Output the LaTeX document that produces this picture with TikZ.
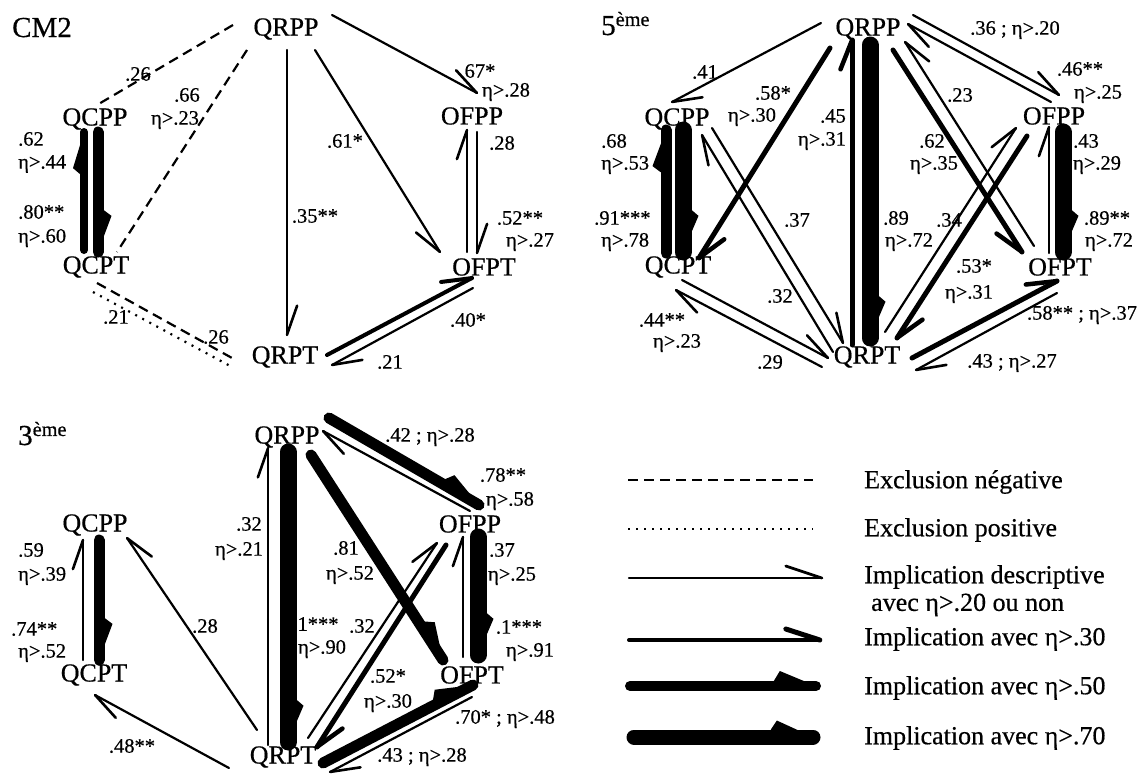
\documentclass[tikz,border=0pt]{standalone}
\usepackage{fontspec}
\setmainfont{Liberation Serif}[FakeBold=0.5]
\usetikzlibrary{decorations.markings}
\tikzset{
  barbA/.style n args={3}{line width=#1, line cap=round,
    postaction={decoration={markings, mark=at position 0.999 with {\draw[line width=#2, line cap=round] (0pt,0pt) -- (-29pt,{#3*(0.5*#1+9pt)});}}, decorate}},
  wedgeA/.style n args={3}{line width=#1, line cap=round,
    postaction={decoration={markings, mark=at position 0.999 with {\fill[line join=round] (0pt,0pt) -- (-36pt,{#3*(0.5*#1+#2)}) -- (-42pt,{#3*0.5*#1}) -- (-42pt,0pt) -- cycle;}}, decorate}},
  a1/.style={barbA={2.2pt}{2.6pt}{1}},
  a1r/.style={barbA={2.2pt}{2.6pt}{-1}},
  a2/.style={barbA={4pt}{4pt}{1}},
  a3/.style={barbA={5pt}{4.5pt}{1}},
  a3r/.style={barbA={5pt}{4.5pt}{-1}},
  b1/.style={wedgeA={8pt}{7pt}{1}},
  b2/.style={wedgeA={11pt}{8pt}{1}},
  b3/.style={wedgeA={17pt}{7pt}{1}},
  nd/.style={font=\fontsize{26}{28}\selectfont, inner sep=0pt},
  lb/.style={font=\fontsize{20.5}{22}\selectfont, inner sep=0pt},
  lg/.style={font=\fontsize{26}{28}\selectfont, inner sep=0pt, anchor=west},
  ttl/.style={font=\fontsize{29}{31}\selectfont, inner sep=0pt, anchor=base west},
  exneg/.style={line width=2.2pt, dash pattern=on 10pt off 6pt},
  expos/.style={line width=2.2pt, dash pattern=on 2pt off 6pt},
}
\begin{document}
\begin{tikzpicture}[x=1pt,y=-1pt]
\useasboundingbox[fill=white] (0,0) rectangle (1148,779);

% ================= CM2 =================
\node[ttl] (tA) at (12,37) {CM2};
\node[nd] (A1) at (286,29) {QRPP};
\node[nd] (A2) at (95,119) {QCPP};
\node[nd] (A3) at (96,267) {QCPT};
\node[nd] (A4) at (472,116) {OFPP};
\node[nd] (A5) at (484,267) {OFPT};
\node[nd] (A6) at (285,357) {QRPT};

\node[lb] (al1) at (138,74) {.26};
\node[lb] (al2) at (187,95) {.66};
\node[lb] (al3) at (175,120) {η>.23};
\node[lb] (al4) at (480,71) {67*};
\node[lb] (al5) at (506,92) {η>.28};
\node[lb] (al6) at (345,141) {.61*};
\node[lb] (al7) at (315,216) {.35**};
\node[lb] (al8) at (502,143) {.28};
\node[lb] (al9) at (520,218) {.52**};
\node[lb] (al10) at (530,242) {η>.27};
\node[lb,anchor=west] (al11) at (18,139) {.62};
\node[lb,anchor=west] (al12) at (18,164) {η>.44};
\node[lb,anchor=west] (al13) at (18,212) {.80**};
\node[lb,anchor=west] (al14) at (18,238) {η>.60};
\node[lb] (al15) at (116,317) {.21};
\node[lb] (al16) at (216,337) {.26};
\node[lb] (al17) at (468,320) {.40*};
\node[lb] (al18) at (390,362) {.21};

\draw[exneg] ([shift={(-53,-4)}]A1.center) -- ([shift={(2,-14)}]A2.center);
\draw[exneg] ([shift={(-39,21)}]A1.center) -- ([shift={(21,-15)}]A3.center);
\draw[a1] ([shift={(46,-14)}]A1.center) -- ([shift={(5,-23)}]A4.center);
\draw[a1r] ([shift={(29,21)}]A1.center) -- ([shift={(-44,-15)}]A5.center);
\draw[a1] ([shift={(1,21)}]A1.center) -- ([shift={(2,-22)}]A6.center);
\draw[a1] ([shift={(-17,-15)}]A5.center) -- ([shift={(-5,14)}]A4.center);
\draw[a1] ([shift={(5,16)}]A4.center) -- ([shift={(-7,-14)}]A5.center);
\draw[b1] ([shift={(-12,-17)}]A3.center) -- ([shift={(-11,13)}]A2.center);
\draw[b2] ([shift={(3,13)}]A2.center) -- ([shift={(2,-15)}]A3.center);
\draw[exneg] ([shift={(1,16)}]A3.center) -- ([shift={(-53,1)}]A6.center);
\draw[expos] ([shift={(-3,25)}]A3.center) -- ([shift={(-53,10)}]A6.center);
\draw[a2] ([shift={(42,-2)}]A6.center) -- ([shift={(-12,11)}]A5.center);
\draw[a1] ([shift={(-11,21)}]A5.center) -- ([shift={(47,8)}]A6.center);

% ================= 5eme =================
\node[ttl] (tB) at (601,35) {5\textsuperscript{ème}};
\node[nd] (B1) at (868,29) {QRPP};
\node[nd] (B2) at (677,119) {QCPP};
\node[nd] (B3) at (678,267) {QCPT};
\node[nd] (B4) at (1054,116) {OFPP};
\node[nd] (B5) at (1060,267) {OFPT};
\node[nd] (B6) at (867,357) {QRPT};

\node[lb] (bl1) at (705,72) {.41};
\node[lb] (bl2) at (773,93) {.58*};
\node[lb] (bl3) at (752,117) {η>.30};
\node[lb] (bl4) at (833,116) {.45};
\node[lb] (bl5) at (822,141) {η>.31};
\node[lb] (bl6) at (1015,30) {.36 ; η>.20};
\node[lb] (bl7) at (1080,69) {.46**};
\node[lb] (bl8) at (1098,94) {η>.25};
\node[lb] (bl9) at (960,95) {.23};
\node[lb] (bl10) at (932,141) {.62};
\node[lb] (bl11) at (934,165) {η>.35};
\node[lb] (bl12) at (1086,141) {.43};
\node[lb] (bl13) at (1097,165) {η>.29};
\node[lb,anchor=west] (bl14) at (601,141) {.68};
\node[lb,anchor=west] (bl15) at (601,165) {η>.53};
\node[lb,anchor=west] (bl16) at (594,218) {.91***};
\node[lb,anchor=west] (bl17) at (601,242) {η>.78};
\node[lb] (bl18) at (797,220) {.37};
\node[lb] (bl19) at (896,218) {.89};
\node[lb] (bl20) at (909,242) {η>.72};
\node[lb] (bl21) at (949,220) {.34};
\node[lb] (bl22) at (1107,218) {.89**};
\node[lb] (bl23) at (1109,242) {η>.72};
\node[lb] (bl24) at (974,266) {.53*};
\node[lb] (bl25) at (969,294) {η>.31};
\node[lb] (bl26) at (780,296) {.32};
\node[lb] (bl27) at (662,320) {.44**};
\node[lb] (bl28) at (677,343) {η>.23};
\node[lb] (bl29) at (770,362) {.29};
\node[lb] (bl30) at (1012,363) {.43 ; η>.27};
\node[lb] (bl31) at (1082,315) {.58** ; η>.37};

\draw[a1] ([shift={(-47,-6)}]B1.center) -- ([shift={(-5,-17)}]B2.center);
\draw[a3] ([shift={(-38,19)}]B1.center) -- ([shift={(21,-9)}]B3.center);
\draw[a3] ([shift={(-15,-12)}]B6.center) -- ([shift={(-16,11)}]B1.center);
\draw[b3] ([shift={(2,16)}]B1.center) -- ([shift={(3,-19)}]B6.center);
\draw[a1] ([shift={(45,-14)}]B1.center) -- ([shift={(5,-21)}]B4.center);
\draw[a1] ([shift={(-3,-14)}]B4.center) -- ([shift={(40,-5)}]B1.center);
\draw[a3r] ([shift={(25,21)}]B1.center) -- ([shift={(-38,-15)}]B5.center);
\draw[a1r] ([shift={(-26,-21)}]B5.center) -- ([shift={(37,13)}]B1.center);
\draw[a1] ([shift={(18,-25)}]B6.center) -- ([shift={(-38,12)}]B4.center);
\draw[a3] ([shift={(-27,20)}]B4.center) -- ([shift={(30,-19)}]B6.center);
\draw[a1] ([shift={(-11,-14)}]B5.center) -- ([shift={(-5,11)}]B4.center);
\draw[b3] ([shift={(9,16)}]B4.center) -- ([shift={(3,-15)}]B5.center);
\draw[b2] ([shift={(-12,-14)}]B3.center) -- ([shift={(-11,11)}]B2.center);
\draw[b3] ([shift={(6,11)}]B2.center) -- ([shift={(5,-15)}]B3.center);
\draw[a1] ([shift={(35,9)}]B2.center) -- ([shift={(-24,-14)}]B6.center);
\draw[a1] ([shift={(-34,-5)}]B6.center) -- ([shift={(25,16)}]B2.center);
\draw[a1] ([shift={(4,13)}]B3.center) -- ([shift={(-39,1)}]B6.center);
\draw[a1] ([shift={(-45,10)}]B6.center) -- ([shift={(-2,23)}]B3.center);
\draw[a3] ([shift={(45,1)}]B6.center) -- ([shift={(-3,14)}]B5.center);
\draw[a1] ([shift={(-3,26)}]B5.center) -- ([shift={(49,13)}]B6.center);

% ================= 3eme =================
\node[ttl] (tC) at (18,445) {3\textsuperscript{ème}};
\node[nd] (C1) at (287,437) {QRPP};
\node[nd] (C2) at (95,525) {QCPP};
\node[nd] (C3) at (94,675) {QCPT};
\node[nd] (C4) at (470,524) {OFPP};
\node[nd] (C5) at (472,675) {OFPT};
\node[nd] (C6) at (283,757) {QRPT};

\node[lb] (cl1) at (430,437) {.42 ; η>.28};
\node[lb] (cl2) at (503,475) {.78**};
\node[lb] (cl3) at (510,501) {η>.58};
\node[lb] (cl4) at (249,524) {.32};
\node[lb] (cl5) at (239,551) {η>.21};
\node[lb] (cl6) at (346,548) {.81};
\node[lb] (cl7) at (350,575) {η>.52};
\node[lb,anchor=west] (cl8) at (18,550) {.59};
\node[lb,anchor=west] (cl9) at (18,576) {η>.39};
\node[lb,anchor=west] (cl10) at (11,629) {.74**};
\node[lb,anchor=west] (cl11) at (18,653) {η>.52};
\node[lb] (cl12) at (205,626) {.28};
\node[lb] (cl13) at (318,624) {1***};
\node[lb] (cl14) at (322,649) {η>.90};
\node[lb] (cl15) at (362,626) {.32};
\node[lb] (cl16) at (388,676) {.52*};
\node[lb] (cl17) at (388,703) {η>.30};
\node[lb] (cl18) at (502,550) {.37};
\node[lb] (cl19) at (512,576) {η>.25};
\node[lb] (cl20) at (519,627) {.1***};
\node[lb] (cl21) at (530,652) {η>.91};
\node[lb] (cl22) at (505,719) {.70* ; η>.48};
\node[lb] (cl23) at (422,757) {.43 ; η>.28};
\node[lb] (cl24) at (132,746) {.48**};

\draw[b2] ([shift={(42,-19)}]C1.center) -- ([shift={(9,-19)}]C4.center);
\draw[a1] ([shift={(0,-13)}]C4.center) -- ([shift={(36,-6)}]C1.center);
\draw[a1] ([shift={(-15,-12)}]C6.center) -- ([shift={(-19,11)}]C1.center);
\draw[b3] ([shift={(1,15)}]C1.center) -- ([shift={(5,-15)}]C6.center);
\draw[b2] ([shift={(24,18)}]C1.center) -- ([shift={(-29,-15)}]C5.center);
\draw[a1] ([shift={(25,-19)}]C6.center) -- ([shift={(-33,19)}]C4.center);
\draw[a3] ([shift={(-24,21)}]C4.center) -- ([shift={(34,-10)}]C6.center);
\draw[a1] ([shift={(-9,-18)}]C5.center) -- ([shift={(-7,13)}]C4.center);
\draw[b3] ([shift={(8,13)}]C4.center) -- ([shift={(6,-20)}]C5.center);
\draw[a1] ([shift={(-11,-15)}]C3.center) -- ([shift={(-12,15)}]C2.center);
\draw[b2] ([shift={(4,15)}]C2.center) -- ([shift={(5,-15)}]C3.center);
\draw[a1r] ([shift={(-26,-27)}]C6.center) -- ([shift={(32,13)}]C2.center);
\draw[a1] ([shift={(-54,11)}]C6.center) -- ([shift={(1,20)}]C3.center);
\draw[b2] ([shift={(40,6)}]C6.center) -- ([shift={(1,10)}]C5.center);
\draw[a1] ([shift={(0,22)}]C5.center) -- ([shift={(47,15)}]C6.center);

% ================= Legend =================
\coordinate (g1a) at (628,480); \coordinate (g1b) at (813,480);
\coordinate (g2a) at (628,529); \coordinate (g2b) at (813,529);
\coordinate (g3a) at (629,578); \coordinate (g3b) at (822,578);
\coordinate (g4a) at (629,640); \coordinate (g4b) at (820,640);
\coordinate (g5a) at (630,686); \coordinate (g5b) at (816,686);
\coordinate (g6a) at (634,737); \coordinate (g6b) at (813,737);
\draw[exneg] (g1a) -- (g1b);
\draw[expos] (g2a) -- (g2b);
\draw[line width=2.2pt, line cap=round, postaction={decoration={markings, mark=at position 0.999 with {\draw[line width=2.8pt, line cap=round] (0pt,0pt) -- (-36pt,12pt);}}, decorate}] (g3a) -- (g3b);
\draw[line width=4pt, line cap=round, postaction={decoration={markings, mark=at position 0.999 with {\draw[line width=5pt, line cap=round] (0pt,0pt) -- (-34pt,11pt);}}, decorate}] (g4a) -- (g4b);
\draw[wedgeA={10pt}{10pt}{1}] (g5a) -- (g5b);
\draw[wedgeA={15pt}{9pt}{1}] (g6a) -- (g6b);
\node[lg] (T1) at (864,482) {Exclusion négative};
\node[lg] (T2) at (864,530) {Exclusion positive};
\node[lg] (T3) at (864,577) {Implication descriptive};
\node[lg] (T3b) at (871,605) {avec η>.20 ou non};
\node[lg] (T4) at (864,639) {Implication avec η>.30};
\node[lg] (T5) at (864,688) {Implication avec η>.50};
\node[lg] (T6) at (864,738) {Implication avec η>.70};
\end{tikzpicture}
\end{document}
